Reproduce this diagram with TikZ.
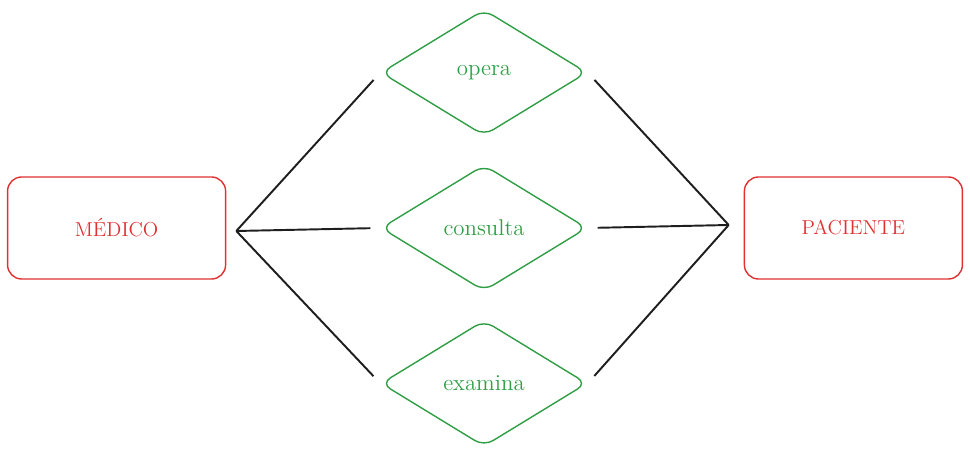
\documentclass[tikz,border=0pt]{standalone}
\usetikzlibrary{positioning, shapes.geometric}
\definecolor{red}{RGB}{224,49,49}
\definecolor{green}{RGB}{47,158,68}
\definecolor{ink}{RGB}{30,30,30}
\tikzstyle{entity}=[rectangle, rounded corners=8pt, draw=red, text=red, thick, minimum width=4.36cm, minimum height=2.04cm, font=\fontsize{11.5}{13}\selectfont]
\tikzstyle{relation}=[diamond, rounded corners=6pt, draw=green, text=green, thick, minimum width=4.12cm, minimum height=2.52cm, inner sep=0pt, font=\fontsize{13}{15}\selectfont]
\tikzstyle{link}=[draw=ink, line width=1.1pt]

\begin{document}
\begin{tikzpicture}
    \useasboundingbox (-9.68,4.56) rectangle (9.72,-4.6);
    %relationships in a column, entities on both sides
    \node[relation](consulta){consulta};
    \node[relation, above = .56cm of consulta](opera){opera};
    \node[relation, below = .56cm of consulta](examina){examina};
    \node[entity, left = 3.08cm of consulta](med){MÉDICO};
    \node[entity, right = 3.12cm of consulta](pac){PACIENTE};
    \coordinate[right = .2cm of med.east, yshift=-.06cm](jm);
    \coordinate[left = .3cm of pac.west, yshift=.06cm](jp);
    \foreach \r in {opera,consulta,examina}{
        \draw[link, shorten >=.2cm](jm) to (\r.west);
        \draw[link, shorten >=.2cm](jp) to (\r.east);
    }
\end{tikzpicture}
\end{document}
